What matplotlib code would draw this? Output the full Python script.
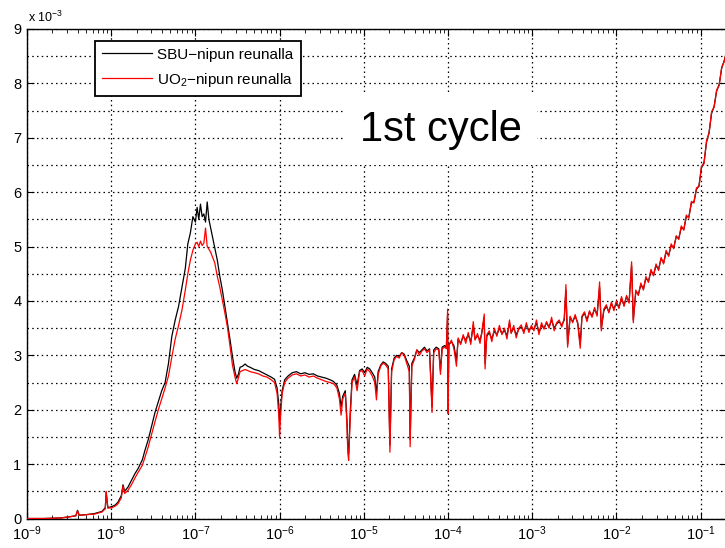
import numpy as np
import matplotlib
matplotlib.use("Agg")
import matplotlib.pyplot as plt
from matplotlib.ticker import FixedLocator, LogLocator, NullFormatter

plt.rcParams['font.family'] = ['Liberation Sans', 'DejaVu Sans']
plt.rcParams['mathtext.fontset'] = 'custom'
plt.rcParams['mathtext.rm'] = 'Liberation Sans'
plt.rcParams['mathtext.it'] = 'Liberation Sans:italic'

# log10 of the x-axis value
log_energy = [
    -9.0, -8.8, -8.6, -8.5, -8.42, -8.40, -8.38, -8.3, -8.2, -8.11,
    -8.07, -8.06, -8.04, -7.99, -7.95, -7.92, -7.88, -7.86, -7.84, -7.8,
    -7.76, -7.72, -7.68, -7.63, -7.6, -7.56, -7.52, -7.48, -7.44, -7.4,
    -7.36, -7.32, -7.28, -7.24, -7.2, -7.16, -7.12, -7.09, -7.06, -7.03,
    -7.0, -6.98, -6.96, -6.94, -6.92, -6.9, -6.88, -6.86, -6.84, -6.82,
    -6.8, -6.77, -6.74, -6.71, -6.68, -6.65, -6.62, -6.59, -6.56, -6.53,
    -6.51, -6.49, -6.47, -6.44, -6.41, -6.38, -6.35, -6.3, -6.25, -6.2,
    -6.15, -6.1, -6.06, -6.03, -6.01, -6.0, -5.99, -5.97, -5.94, -5.9,
    -5.85, -5.8, -5.75, -5.7, -5.65, -5.6, -5.55, -5.5, -5.45, -5.4,
    -5.36, -5.32, -5.29, -5.27, -5.25, -5.22, -5.2, -5.19, -5.18, -5.16,
    -5.14, -5.11, -5.08, -5.05, -5.02, -4.99, -4.96, -4.93, -4.9, -4.87,
    -4.85, -4.83, -4.8, -4.77, -4.74, -4.71, -4.69, -4.67, -4.64, -4.61,
    -4.58, -4.55, -4.52, -4.49, -4.46, -4.45, -4.43, -4.4, -4.37, -4.34,
    -4.31, -4.28, -4.25, -4.22, -4.19, -4.17, -4.14, -4.11, -4.09, -4.07,
    -4.04, -4.02, -4.005, -4.0, -3.99, -3.96, -3.93, -3.9, -3.88, -3.85,
    -3.82, -3.79, -3.76, -3.73, -3.7, -3.68, -3.65, -3.62, -3.6, -3.57,
    -3.56, -3.54, -3.51, -3.48, -3.45, -3.42, -3.39, -3.36, -3.33, -3.3,
    -3.27, -3.25, -3.22, -3.19, -3.16, -3.13, -3.1, -3.07, -3.04, -3.01,
    -2.98, -2.95, -2.92, -2.89, -2.86, -2.83, -2.8, -2.77, -2.74, -2.71,
    -2.68, -2.65, -2.62, -2.6, -2.58, -2.55, -2.52, -2.49, -2.46, -2.43,
    -2.41, -2.38, -2.35, -2.32, -2.29, -2.26, -2.23, -2.2, -2.18, -2.15,
    -2.12, -2.09, -2.06, -2.03, -2.0, -1.97, -1.94, -1.91, -1.88, -1.85,
    -1.82, -1.8, -1.77, -1.74, -1.71, -1.68, -1.65, -1.62, -1.59, -1.56,
    -1.53, -1.5, -1.47, -1.44, -1.41, -1.38, -1.35, -1.32, -1.29, -1.26,
    -1.23, -1.2, -1.17, -1.14, -1.11, -1.08, -1.05, -1.02, -0.99, -0.96,
    -0.93, -0.9, -0.87, -0.84, -0.81, -0.78, -0.75, -0.72, -0.69,
]

# SBU series (x 1e-3)
sbu_values = [
    0.0, 0.0, 0.01, 0.03, 0.05, 0.15, 0.06, 0.07, 0.09, 0.13,
    0.2, 0.48, 0.2, 0.22, 0.25, 0.3, 0.42, 0.62, 0.5, 0.58,
    0.7, 0.82, 0.92, 1.08, 1.25, 1.45, 1.7, 1.95, 2.15, 2.35,
    2.5, 2.85, 3.35, 3.65, 3.9, 4.25, 4.6, 5.05, 5.25, 5.55,
    5.45, 5.72, 5.5, 5.78, 5.55, 5.6, 5.45, 5.82, 5.5, 5.35,
    5.2, 4.98, 4.75, 4.45, 4.2, 3.9, 3.6, 3.3, 2.98, 2.7,
    2.58, 2.65, 2.78, 2.8, 2.84, 2.8, 2.78, 2.74, 2.72, 2.68,
    2.64, 2.6, 2.56, 2.4, 2.1, 1.75, 2.0, 2.35, 2.55, 2.62,
    2.68, 2.7, 2.66, 2.68, 2.65, 2.66, 2.62, 2.6, 2.58, 2.55,
    2.52, 2.45, 2.3, 2.05, 2.25, 2.35, 1.8, 1.3, 1.2, 2.0,
    2.55, 2.65, 2.45, 2.72, 2.75, 2.68, 2.78, 2.75, 2.68, 2.6,
    2.3, 2.7, 2.82, 2.88, 2.85, 2.8, 1.35, 2.75, 2.95, 3.0,
    2.98, 3.05, 3.02, 2.9, 2.8, 1.45, 2.85, 2.95, 3.1, 3.05,
    3.1, 3.15, 3.08, 3.12, 2.05, 3.1, 3.15, 3.12, 2.72, 3.15,
    3.18, 3.15, 3.75, 2.05, 3.2, 3.25, 3.18, 2.9, 3.3, 3.22,
    3.35, 3.28, 3.38, 3.25, 3.55, 3.3, 3.36, 3.28, 3.4, 3.7,
    2.85, 3.35, 3.42, 3.3, 3.45, 3.38, 3.5, 3.4, 3.46, 3.36,
    3.6, 3.42, 3.5, 3.38, 3.48, 3.52, 3.44, 3.55, 3.46, 3.52,
    3.48, 3.6, 3.42, 3.55, 3.5, 3.6, 3.52, 3.65, 3.5, 3.58,
    3.62, 3.55, 3.65, 4.2, 3.2, 3.7, 3.62, 3.72, 3.6, 3.2,
    3.7, 3.78, 3.65, 3.8, 3.72, 3.85, 3.75, 4.25, 3.5, 3.82,
    3.9, 3.8, 3.95, 3.85, 3.98, 3.88, 4.05, 3.92, 4.08, 3.98,
    4.65, 3.65, 4.18, 4.12, 4.3, 4.22, 4.42, 4.36, 4.55, 4.48,
    4.65, 4.58, 4.78, 4.7, 4.9, 4.84, 5.02, 4.98, 5.18, 5.15,
    5.35, 5.32, 5.55, 5.55, 5.8, 5.82, 6.05, 6.12, 6.45, 6.55,
    6.92, 7.1, 7.45, 7.58, 7.86, 7.98, 8.28, 8.42, 8.6,
]

# UO2 series (x 1e-3)
uo2_values = [
    0.0, 0.0, 0.01, 0.03, 0.05, 0.14, 0.06, 0.07, 0.08, 0.12,
    0.18, 0.5, 0.19, 0.2, 0.23, 0.27, 0.38, 0.6, 0.46, 0.52,
    0.62, 0.74, 0.85, 0.98, 1.12, 1.32, 1.55, 1.78, 2.0, 2.2,
    2.4, 2.62, 2.97, 3.3, 3.55, 3.83, 4.2, 4.5, 4.75, 4.93,
    5.05, 5.08, 5.0, 5.1, 5.02, 5.06, 5.34, 5.0, 4.95, 4.9,
    4.82, 4.7, 4.45, 4.25, 4.02, 3.78, 3.52, 3.18, 2.82, 2.6,
    2.48, 2.58, 2.7, 2.72, 2.74, 2.72, 2.7, 2.68, 2.66, 2.62,
    2.6, 2.55, 2.5, 2.3, 1.9, 1.48, 1.85, 2.3, 2.5, 2.58,
    2.64, 2.66, 2.62, 2.64, 2.6, 2.62, 2.58, 2.55, 2.52, 2.5,
    2.48, 2.4, 2.2, 1.9, 2.2, 2.3, 1.7, 1.2, 1.07, 1.9,
    2.5, 2.6, 2.35, 2.7, 2.72, 2.62, 2.75, 2.7, 2.62, 2.5,
    2.18, 2.65, 2.8, 2.86, 2.82, 2.75, 1.22, 2.7, 2.92, 2.98,
    2.95, 3.05, 3.0, 2.85, 2.7, 1.32, 2.8, 2.92, 3.1, 3.0,
    3.08, 3.12, 3.05, 3.1, 1.95, 3.05, 3.12, 3.1, 2.65, 3.12,
    3.15, 3.12, 3.85, 1.93, 3.18, 3.28, 3.12, 2.8, 3.32, 3.2,
    3.38, 3.22, 3.42, 3.2, 3.62, 3.28, 3.4, 3.22, 3.42, 3.76,
    2.75, 3.38, 3.45, 3.25, 3.5, 3.35, 3.55, 3.38, 3.5, 3.3,
    3.65, 3.4, 3.55, 3.32, 3.5, 3.56, 3.4, 3.6, 3.42, 3.55,
    3.45, 3.65, 3.38, 3.6, 3.48, 3.62, 3.5, 3.7, 3.45, 3.6,
    3.65, 3.52, 3.68, 4.3, 3.15, 3.72, 3.6, 3.75, 3.58, 3.13,
    3.72, 3.8, 3.62, 3.82, 3.7, 3.88, 3.72, 4.35, 3.45, 3.85,
    3.93, 3.78, 3.98, 3.82, 4.0, 3.86, 4.08, 3.9, 4.1, 3.96,
    4.72, 3.6, 4.2, 4.1, 4.33, 4.2, 4.45, 4.34, 4.58, 4.46,
    4.68, 4.56, 4.8, 4.68, 4.93, 4.82, 5.05, 4.96, 5.2, 5.13,
    5.38, 5.3, 5.58, 5.52, 5.83, 5.8, 6.08, 6.1, 6.48, 6.52,
    6.95, 7.08, 7.48, 7.56, 7.88, 7.96, 8.3, 8.4, 8.6,
]

series_labels = ['SBU\u2212nipun reunalla', 'UO$_2$\u2212nipun reunalla']
y_tick_values = [0, 1, 2, 3, 4, 5, 6, 7, 8, 9]
y_grid_values = [0.5, 1.5, 2.5, 3.5, 4.5, 5.5, 6.5, 7.5, 8.5]
x_limits = (1e-9, 0.2)
annotation_text = '1st cycle'
scale_text = 'x 10$^{-3}$'

energy = 10.0 ** np.array(log_energy)
sbu = np.array(sbu_values)
uo2 = np.array(uo2_values)
assert len(energy) == len(sbu) == len(uo2)

W, H = 725, 548
fig = plt.figure(figsize=(W / 100, H / 100), dpi=100)
left_px, right_px, top_px, bottom_px = 27, 726, 29, 518.5
ax = fig.add_axes([left_px / W, 1 - bottom_px / H,
                   (right_px - left_px) / W, (bottom_px - top_px) / H])

ax.plot(energy, sbu, color='black', lw=0.9, label=series_labels[0], zorder=3)
ax.plot(energy, uo2, color='#ff0000', lw=0.9, label=series_labels[1], zorder=4)

ax.set_xscale('log')
ax.set_xlim(*x_limits)
ax.set_ylim(0, 9)
ax.xaxis.set_major_locator(LogLocator(base=10, numticks=20))
ax.xaxis.set_minor_locator(LogLocator(base=10, subs=np.arange(2, 10), numticks=20))
ax.xaxis.set_minor_formatter(NullFormatter())
ax.yaxis.set_major_locator(FixedLocator(y_tick_values))
ax.yaxis.set_minor_locator(FixedLocator(y_grid_values))

ax.tick_params(axis='both', which='major', direction='in', length=5, width=0.8,
               top=True, right=True, labelsize=10.5, pad=4, colors='black')
ax.tick_params(axis='x', which='minor', direction='in', length=3, width=0.6,
               top=True, bottom=True)
ax.tick_params(axis='y', which='minor', length=0)

grid_style = dict(color='black', linestyle=(0, (1.2, 2.6)), linewidth=0.9)
ax.grid(True, which='major', axis='both', **grid_style)
ax.grid(True, which='minor', axis='y', **grid_style)
for sp in ax.spines.values():
    sp.set_linewidth(1.0)
    sp.set_color('black')

leg = ax.legend(loc='upper left', bbox_to_anchor=(0.097, 0.976), borderaxespad=0,
                fancybox=False, framealpha=1, edgecolor='black', fontsize=11,
                handlelength=3.3, handletextpad=0.35, labelspacing=0.6,
                borderpad=0.45)
leg.get_frame().set_linewidth(1.3)
leg.set_zorder(6)

fig.text(28 / W, 1 - 22 / H, scale_text, fontsize=9, ha='left', va='baseline')

fig.text(360 / W, 1 - 141 / H, annotation_text, fontsize=30, ha='left',
         va='baseline', zorder=7,
         bbox=dict(facecolor='white', edgecolor='none', pad=11))

fig.savefig('out.png', dpi=100)
